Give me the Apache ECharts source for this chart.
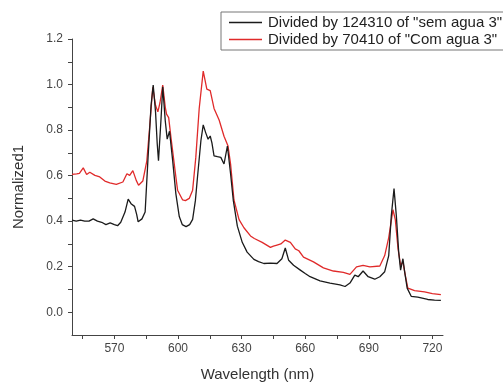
<!DOCTYPE html>
<html>
<head>
<meta charset="utf-8">
<script src="https://cdn.jsdelivr.net/npm/echarts@6/dist/echarts.min.js"></script>
<style>
  html, body { margin: 0; padding: 0; background: #fff; }
  #chart { width: 503px; height: 387px; }
</style>
</head>
<body>
<div id="chart"></div>
<script>
// series names as in the legend
const seriesNames = ['Divided by 124310 of "sem agua 3"', 'Divided by 70410 of "Com agua 3"'];

// "sem agua 3" (black): wavelength (nm) / normalized value
const semWl = [550, 552, 554, 556, 558, 560, 562, 564, 566, 568, 570, 571.5, 573, 575, 576.5, 578, 579.5, 580.5, 581.2, 583, 584.5,
  585.8, 587.3, 588.3, 589.4, 590.2, 590.8, 592, 592.8, 594, 594.9, 596, 597.5, 599, 600.6, 602, 603.8, 605.5, 606.9, 608.2,
  609.2, 610.8, 611.9, 613, 614.2, 615.2, 616, 617, 618.6, 619.4, 620.2, 621.7, 623.3, 624.8, 626.1, 628, 630.3, 632.6, 635.8,
  638, 640.5, 643.6, 646.7, 649, 650.6, 652.2, 654.5, 657.7, 660, 662.3, 667, 671.7, 676.4, 678.8, 681.1, 683.4, 685, 687.3,
  689.7, 692.8, 695.2, 697.5, 699.4, 700.6, 701.9, 703, 704.1, 705, 706.1, 706.9, 708.1, 710, 713.1, 717.8, 721, 724];
const semVal = [0.405, 0.40, 0.405, 0.40, 0.40, 0.41, 0.40, 0.395, 0.385, 0.392, 0.385, 0.38, 0.395, 0.44, 0.497, 0.475, 0.465, 0.43, 0.397, 0.41, 0.44,
  0.667, 0.909, 0.998, 0.88, 0.74, 0.665, 0.85, 0.99, 0.84, 0.76, 0.795, 0.665, 0.52, 0.42, 0.385, 0.376, 0.385, 0.408, 0.49,
  0.594, 0.753, 0.823, 0.79, 0.76, 0.774, 0.744, 0.687, 0.683, 0.69, 0.68, 0.651, 0.73, 0.608, 0.49, 0.378, 0.307, 0.264, 0.232,
  0.222, 0.214, 0.216, 0.214, 0.235, 0.282, 0.228, 0.206, 0.185, 0.17, 0.156, 0.138, 0.128, 0.12, 0.113, 0.128, 0.163, 0.156, 0.181,
  0.156, 0.145, 0.156, 0.178, 0.249, 0.422, 0.543, 0.422, 0.264, 0.185, 0.235, 0.178, 0.106, 0.07, 0.066, 0.056, 0.053, 0.052];

// "Com agua 3" (red)
const comWl = [550, 552.2, 553.5, 555.3, 556.9, 558.4, 560.8, 563.1, 565.5, 567.8, 570.9, 574, 575.9, 577.2, 578.7, 580.3, 581.4, 583.4,
  585.3, 586.6, 588.1, 589.4, 590.5, 591.5, 592.8, 594, 594.6, 595.6, 596.7, 599, 599.8, 602.2, 603.5, 605.3, 606.9, 608.4, 610,
  611.9, 613.6, 615.2, 617, 619.4, 621.7, 623.6, 624.8, 626.4, 628.8, 631.1, 634.2, 636, 639.7, 643.6, 645, 646.7, 648.5, 650.6,
  653, 655.3, 657, 659.2, 663.9, 668.6, 673.3, 678, 681.1, 684.2, 687.3, 690.5, 695.2, 697.5, 699.4, 701.4, 702.5, 703.8, 705,
  706.1, 707.2, 708.4, 711.6, 716.3, 720, 724];
const comVal = [0.605, 0.608, 0.61, 0.634, 0.605, 0.615, 0.601, 0.594, 0.576, 0.568, 0.562, 0.572, 0.608, 0.601, 0.622, 0.579, 0.558, 0.576,
  0.665, 0.809, 0.988, 0.909, 0.88, 0.92, 0.998, 0.90, 0.87, 0.855, 0.766, 0.594, 0.536, 0.493, 0.49, 0.50, 0.536, 0.68, 0.895,
  1.059, 0.98, 0.973, 0.895, 0.844, 0.773, 0.73, 0.651, 0.493, 0.407, 0.371, 0.335, 0.324, 0.307, 0.285, 0.29, 0.295, 0.30, 0.317,
  0.307, 0.278, 0.27, 0.242, 0.221, 0.195, 0.181, 0.175, 0.166, 0.199, 0.206, 0.199, 0.203, 0.249, 0.328, 0.45, 0.407, 0.278, 0.206,
  0.221, 0.163, 0.106, 0.095, 0.089, 0.082, 0.077];

// axis ticks and labels
const xLabels = [570, 600, 630, 660, 690, 720];
const xTicks = [555, 570, 585, 600, 615, 630, 645, 660, 675, 690, 705, 720];
const yLabels = [0, 0.2, 0.4, 0.6, 0.8, 1.0, 1.2];
const yTicks = [0, 0.1, 0.2, 0.3, 0.4, 0.5, 0.6, 0.7, 0.8, 0.9, 1.0, 1.1, 1.2];

const pairs = (xs, ys) => xs.map((x, i) => [x, ys[i]]);

const axisColor = '#444';
const font = 'Liberation Sans, Arial, sans-serif';

const option = {
  animation: false,
  grid: { left: 72, top: 39, right: 60, bottom: 45.5 },
  legend: {
    orient: 'vertical',
    left: 221,
    top: 12,
    padding: [3, 60, 3, 8],
    itemGap: 2,
    itemWidth: 33,
    itemHeight: 16,
    icon: 'path://M0,0h33v1.5h-33z',
    borderColor: '#777',
    borderWidth: 1,
    textStyle: { fontFamily: font, fontSize: 15, color: '#222', padding: [0, 0, 0, 1] },
    data: seriesNames
  },
  xAxis: {
    type: 'value',
    min: 550,
    max: 725,
    name: 'Wavelength (nm)',
    nameLocation: 'middle',
    nameGap: 32,
    nameTextStyle: { fontFamily: font, fontSize: 15, color: '#333' },
    axisLine: { onZero: false, lineStyle: { color: axisColor, width: 1 } },
    axisTick: { customValues: xTicks, length: 4, lineStyle: { color: axisColor } },
    axisLabel: { customValues: xLabels, margin: 8, fontFamily: font, fontSize: 12, color: '#444' },
    splitLine: { show: false }
  },
  yAxis: {
    type: 'value',
    min: -0.1,
    max: 1.2,
    name: 'Normalized1',
    nameLocation: 'middle',
    nameGap: 46,
    nameTextStyle: { fontFamily: font, fontSize: 15, color: '#333' },
    axisLine: { show: true, onZero: false, lineStyle: { color: axisColor, width: 1 } },
    axisTick: { show: true, customValues: yTicks, length: 4, lineStyle: { color: axisColor } },
    axisLabel: {
      customValues: yLabels, margin: 9, fontFamily: font, fontSize: 12, color: '#444',
      formatter: v => v.toFixed(1)
    },
    splitLine: { show: false }
  },
  series: [
    {
      name: seriesNames[0],
      type: 'line',
      symbol: 'none',
      data: pairs(semWl, semVal),
      lineStyle: { color: '#1b1b1b', width: 1.3 },
      itemStyle: { color: '#1b1b1b' },
      z: 3
    },
    {
      name: seriesNames[1],
      type: 'line',
      symbol: 'none',
      data: pairs(comWl, comVal),
      lineStyle: { color: '#e02a2a', width: 1.3 },
      itemStyle: { color: '#e02a2a' },
      z: 2
    }
  ]
};

const chart = echarts.init(document.getElementById('chart'));
chart.setOption(option);
</script>
</body>
</html>
